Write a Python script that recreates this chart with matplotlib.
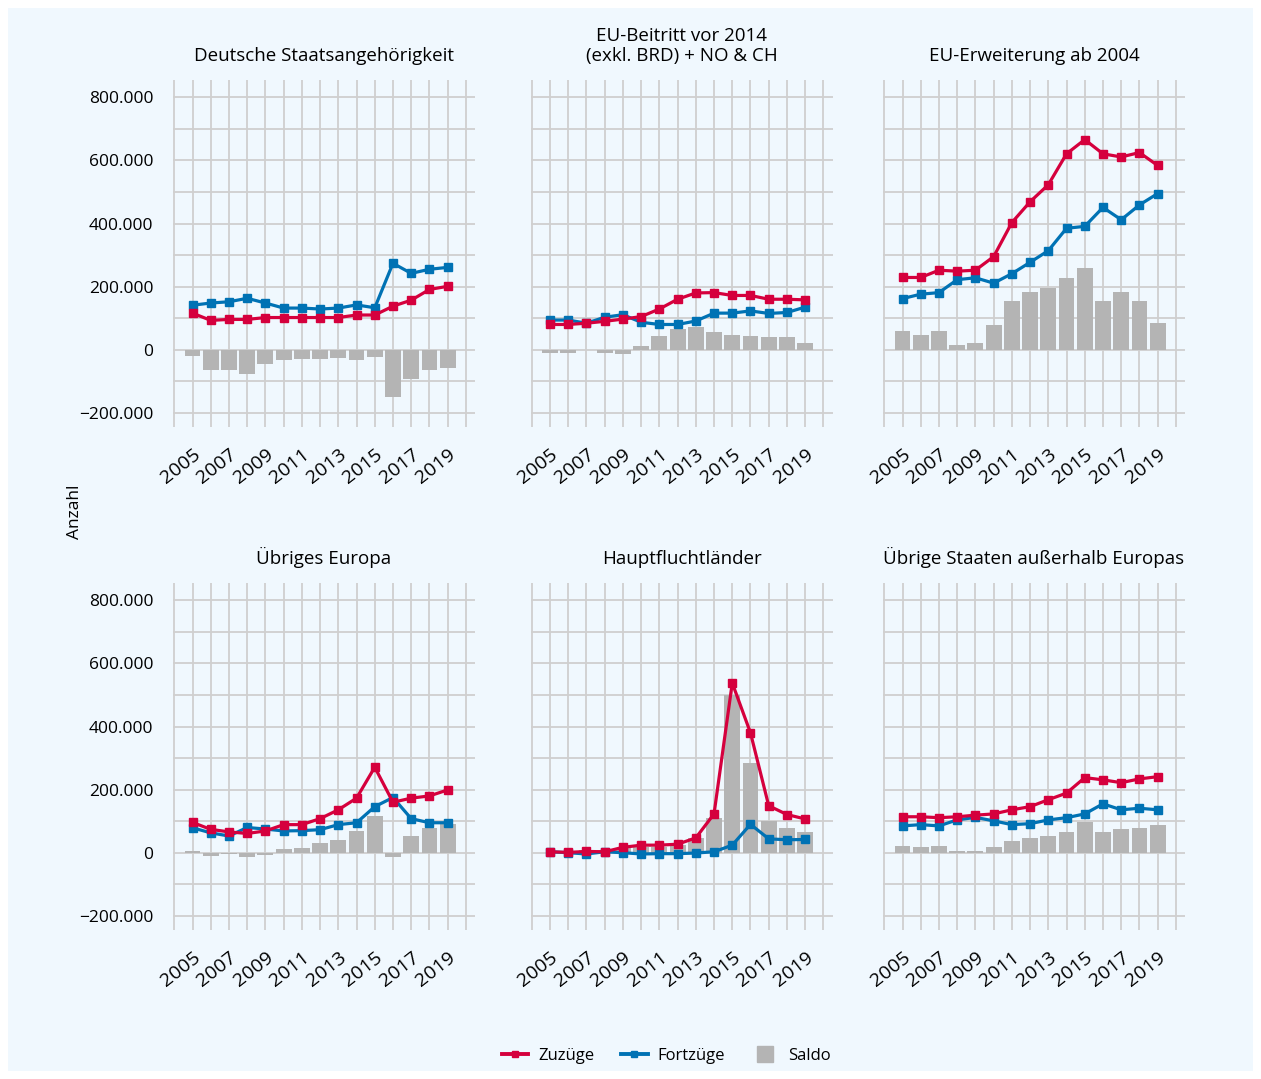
import matplotlib
matplotlib.use('Agg')
import matplotlib.pyplot as plt
from matplotlib.lines import Line2D
from matplotlib.patches import Rectangle
from matplotlib.ticker import MultipleLocator, FuncFormatter

plt.rcParams['font.family'] = ['Open Sans', 'DejaVu Sans']

years = list(range(2005, 2020))

titles = ['Deutsche Staatsangehörigkeit',
          'EU-Beitritt vor 2014\n(exkl. BRD) + NO & CH',
          'EU-Erweiterung ab 2004',
          'Übriges Europa',
          'Hauptfluchtländer',
          'Übrige Staaten außerhalb Europas']

# values in thousands
zuzuege_de = [116, 93, 96, 96, 102, 102, 102, 102, 102, 110, 110, 138, 157, 191, 201]
fortzuege_de = [141, 148, 152, 163, 148, 132, 132, 129, 132, 142, 133, 274, 242, 255, 261]
saldo_de = [-20, -65, -65, -78, -46, -34, -31, -31, -26, -34, -24, -150, -94, -65, -58]

zuzuege_eu14 = [80, 80, 84, 90, 97, 105, 129, 160, 180, 181, 172, 172, 160, 160, 158]
fortzuege_eu14 = [94, 94, 84, 103, 111, 87, 80, 80, 91, 116, 116, 123, 115, 118, 135]
saldo_eu14 = [-11, -11, 0, -11, -13, 11, 42, 67, 71, 55, 48, 42, 39, 39, 20]

zuzuege_eu04 = [229, 229, 252, 249, 252, 295, 403, 469, 523, 621, 666, 621, 611, 625, 584]
fortzuege_eu04 = [162, 176, 181, 222, 228, 211, 241, 277, 314, 385, 391, 451, 412, 459, 495]
saldo_eu04 = [58, 48, 58, 14, 20, 77, 156, 184, 197, 226, 260, 156, 184, 153, 86]

zuzuege_eur = [96, 74, 66, 61, 69, 89, 89, 108, 136, 173, 271, 160, 173, 180, 199]
fortzuege_eur = [79, 63, 53, 80, 75, 69, 70, 73, 89, 95, 146, 175, 108, 95, 95]
saldo_eur = [5, -10, -3, -15, -8, 13, 16, 30, 40, 70, 115, -15, 53, 78, 90]

zuzuege_flucht = [3, 1, 4, 3, 17, 24, 24, 27, 47, 123, 538, 380, 149, 121, 107]
fortzuege_flucht = [3, 0, -4, 3, 0, -4, -3, -3, -1, 3, 24, 90, 44, 41, 42]
saldo_flucht = [0, 0, 8, 8, 14, 19, 19, 24, 47, 111, 499, 285, 100, 78, 65]

zuzuege_rest = [114, 114, 111, 114, 119, 123, 136, 146, 168, 189, 238, 231, 222, 234, 241]
fortzuege_rest = [85, 89, 85, 104, 112, 101, 89, 92, 104, 111, 123, 155, 136, 141, 136]
saldo_rest = [21, 18, 21, 5, 5, 18, 37, 46, 53, 65, 98, 65, 75, 78, 88]

panels = [(zuzuege_de, fortzuege_de, saldo_de),
          (zuzuege_eu14, fortzuege_eu14, saldo_eu14),
          (zuzuege_eu04, fortzuege_eu04, saldo_eu04),
          (zuzuege_eur, fortzuege_eur, saldo_eur),
          (zuzuege_flucht, fortzuege_flucht, saldo_flucht),
          (zuzuege_rest, fortzuege_rest, saldo_rest)]

red = '#D5003D'
blue = '#0072B4'
grey = '#B4B4B4'
bg = '#F0F8FE'
gridc = '#CFCFCF'

W, H = 1261, 1079
fig = plt.figure(figsize=(W / 100, H / 100), dpi=100)
fig.patch.set_facecolor('white')
fig.patches.append(Rectangle((8 / W, 8 / H), 1 - 16 / W, 1 - 16 / H,
                             transform=fig.transFigure, facecolor=bg,
                             edgecolor='none', zorder=-10))


def fmt(v, pos):
    v = int(round(v))
    if v == 0:
        return '0'
    s = f'{abs(v):,}'.replace(',', '.')
    return ('\u2212' if v < 0 else '') + s


lefts = [173, 530.5, 883]
tops = [80, 583]
aw, ah = 302, 347

for i, (zz, fz, sd) in enumerate(panels):
    r, c = divmod(i, 3)
    ax = fig.add_axes([lefts[c] / W, 1 - (tops[r] + ah) / H, aw / W, ah / H])
    ax.set_facecolor('none')
    ax.bar(years, [v * 1000 for v in sd], width=0.87, color=grey, zorder=2)
    ax.plot(years, [v * 1000 for v in fz], color=blue, lw=2.3, marker='s',
            ms=6, zorder=3)
    ax.plot(years, [v * 1000 for v in zz], color=red, lw=2.3, marker='s',
            ms=6, zorder=4)
    ax.set_xlim(2003.93, 2020.5)
    ax.set_ylim(-245000, 855000)
    ax.yaxis.set_major_locator(MultipleLocator(200000))
    ax.yaxis.set_minor_locator(MultipleLocator(100000))
    ax.set_xticks(range(2005, 2020, 2))
    ax.set_xticks(range(2004, 2021), minor=True)
    ax.grid(which='both', color=gridc, lw=1.3, zorder=0)
    ax.set_axisbelow(True)
    for s in ax.spines.values():
        s.set_visible(False)
    ax.tick_params(which='both', length=0)
    ax.tick_params(axis='y', labelsize=12.5, pad=14)
    if c == 0:
        ax.yaxis.set_major_formatter(FuncFormatter(fmt))
    else:
        ax.set_yticklabels([])
    ax.set_xticklabels([str(y) for y in range(2005, 2020, 2)], rotation=38,
                       ha='right', va='top', rotation_mode='anchor',
                       fontsize=14)
    ax.tick_params(axis='x', pad=13)
    ax.set_title(titles[i], fontsize=13.5, pad=14, linespacing=1.1)

fig.text(75 / W, 1 - 512 / H, 'Anzahl', rotation=90, fontsize=12.5,
         ha='center', va='center')

handles = [Line2D([], [], color=red, lw=2.8, marker='s', ms=5),
           Line2D([], [], color=blue, lw=2.8, marker='s', ms=5),
           Line2D([], [], color=grey, ls='none', marker='s', ms=12)]
fig.legend(handles, ['Zuzüge', 'Fortzüge', 'Saldo'], loc='center',
           bbox_to_anchor=(0.5285, 1 - 1056 / H), ncol=3, frameon=False,
           fontsize=12, handlelength=1.6, columnspacing=1.6, handletextpad=0.6)

fig.savefig('out.png', dpi=100, facecolor=fig.get_facecolor())
